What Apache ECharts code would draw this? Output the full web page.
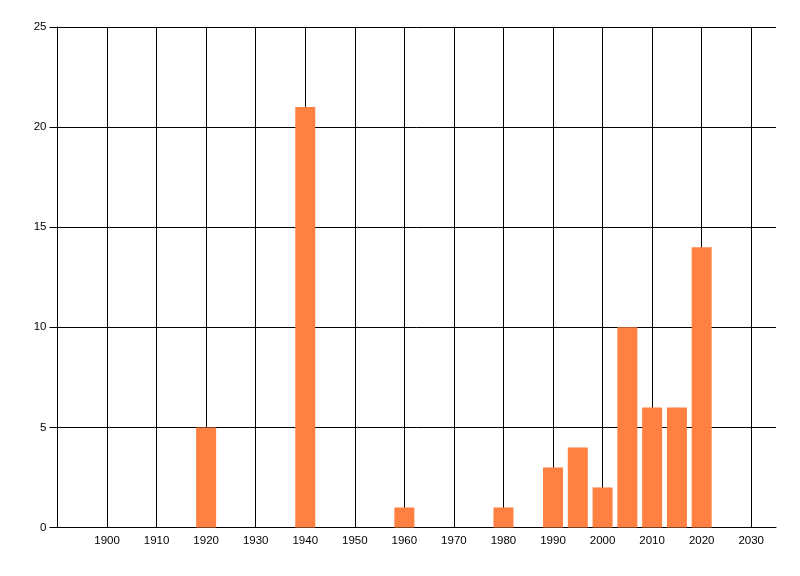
<!DOCTYPE html>
<html style="height: 100%">
<head>
    <meta charset="utf-8">
    <script src="https://cdn.jsdelivr.net/npm/echarts@6/dist/echarts.min.js"></script>
</head>
<body style="margin:0; height:576px; width:800px; background-color:#fff">
    <div id="container" style="height:576px; width:800px"></div>
    <script type="text/javascript">
        // years of each bar and their counts
        var years = [1920, 1940, 1960, 1980, 1990, 1995, 2000, 2005, 2010, 2015, 2020];
        var counts = [5, 21, 1, 1, 3, 4, 2, 10, 6, 6, 14];
        var xRange = [1890, 2035];
        var yTicks = [0, 5, 10, 15, 20, 25];

        var series_data = [];
        for (var i = 0; i < years.length; i++) {
            series_data.push([years[i], counts[i]]);
        }

        // one colour per vertical grid line, the one at the right edge hidden
        var gridColors = [];
        for (var y = xRange[0]; y < xRange[1]; y += 10) {
            gridColors.push('#000');
        }
        gridColors.push('transparent');

        var font = 'Liberation Sans';
        var dom = document.getElementById("container");
        var myChart = echarts.init(dom);

        var option = {
            animation: false,
            grid: { left: 57.5, right: 24, top: 27, bottom: 48.5 },
            xAxis: {
                type: 'value',
                min: xRange[0],
                max: xRange[1],
                interval: 10,
                axisLine: { lineStyle: { color: '#000', width: 1 } },
                axisTick: { show: false },
                splitLine: { show: true, lineStyle: { color: gridColors, width: 1 } },
                axisLabel: {
                    showMinLabel: false,
                    showMaxLabel: false,
                    color: '#000',
                    fontFamily: font,
                    fontSize: 11.5,
                    margin: 7,
                    formatter: function (v) { return String(v); }
                }
            },
            yAxis: {
                type: 'value',
                min: yTicks[0],
                max: yTicks[yTicks.length - 1],
                interval: 5,
                axisLine: { show: true, lineStyle: { color: '#000', width: 1 } },
                axisTick: { show: true, length: 8, lineStyle: { color: '#000' } },
                splitLine: { show: true, lineStyle: { color: '#000', width: 1 } },
                axisLabel: {
                    color: '#000',
                    fontFamily: font,
                    fontSize: 11.5,
                    margin: 11
                }
            },
            series: [{
                type: 'bar',
                barWidth: 20,
                itemStyle: { color: '#ff8040' },
                data: series_data
            }]
        };
        myChart.setOption(option);
    </script>
</body>
</html>
